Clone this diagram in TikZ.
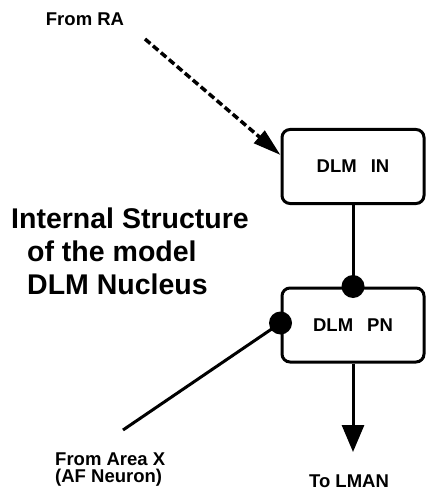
\documentclass[tikz,border=0pt]{standalone}
\usepackage{fontspec}
\setmainfont{Liberation Sans}
\usetikzlibrary{arrows.meta, positioning}

\tikzset{
  cell/.style={draw, line width=3bp, rounded corners=8bp, minimum width=142bp,
    minimum height=74bp, font=\fontsize{18.5bp}{20bp}\bfseries, inner sep=0pt},
  lbl/.style={font=\fontsize{18.5bp}{17bp}\selectfont\bfseries, inner sep=0pt},
  wire/.style={line width=3bp},
  syn/.style={fill=black, circle, minimum size=23bp, inner sep=0pt},
}

\begin{document}
\begin{tikzpicture}[x=1bp,y=-1bp]
  \useasboundingbox (0,0) rectangle (427,496);

  % cells of the nucleus
  \node[cell] (in) at (353,166.5) {DLM\hspace{14bp}IN};
  \node[cell] (pn) at (353,325) {DLM\hspace{14bp}PN};

  % labels
  \node[lbl] (ra) at (85,19) {From RA};
  \node[lbl, align=left, anchor=north west] (ax) at (55,453) {From Area X\\(AF Neuron)};
  \node[lbl] (lman) at (349,481.5) {To LMAN};
  \node[align=left, anchor=north west, inner sep=0pt,
        font=\fontsize{28.5bp}{33bp}\selectfont\bfseries] (title) at (11,208)
        {Internal Structure\\\hspace*{16bp}of the model\\\hspace*{16bp}DLM Nucleus};

  % synapses
  \node[syn] (s1) at (pn.north) {};
  \node[syn] (s2) at ([yshift=2bp]pn.west) {};

  % free ends
  \coordinate (rastart) at (145,39);
  \coordinate (axend) at (123,430);
  \coordinate (lmanend) at (353,452);

  % connections
  \draw[line width=3.5bp, dash pattern=on 7bp off 3.5bp, -{Triangle[length=28bp,width=16bp]}]
    (rastart) -- (in.171);
  \draw[wire] (in.south) -- (s1.center);
  \draw[wire] (s2.center) -- (axend);
  \draw[wire, -{Triangle[length=27bp,width=22bp]}] (pn.south) -- (lmanend);
\end{tikzpicture}
\end{document}
